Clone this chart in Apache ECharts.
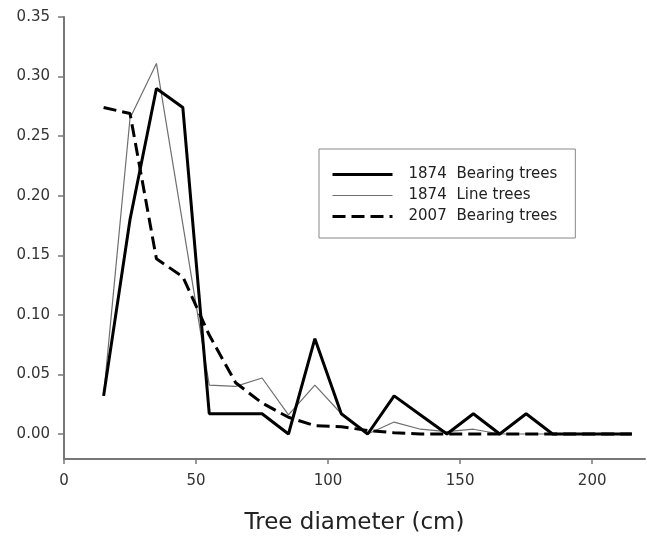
<!DOCTYPE html>
<html>
<head>
<meta charset="utf-8">
<script src="https://cdn.jsdelivr.net/npm/echarts@6/dist/echarts.min.js"></script>
<style>
    html, body { margin: 0; padding: 0; background: #fff; }
    #chart { width: 647px; height: 540px; }
</style>
</head>
<body>
<div id="chart"></div>
<script>
// tree diameter class midpoints (cm)
var diameters = [15, 25, 35, 45, 55, 65, 75, 85, 95, 105, 115, 125, 135, 145,
    155, 165, 175, 185, 195, 205, 215];
var bearing1874 = [0.032, 0.180, 0.290, 0.274, 0.017, 0.017, 0.017, 0.000,
    0.080, 0.017, 0.000, 0.032, 0.016, 0.000, 0.017, 0.000, 0.017, 0.000,
    0.000, 0.000, 0.000];
var line1874 = [0.032, 0.265, 0.311, 0.176, 0.041, 0.040, 0.047, 0.016,
    0.041, 0.017, 0.000, 0.010, 0.004, 0.002, 0.004, 0.000, 0.000, 0.000,
    0.000, 0.000, 0.000];
var bearing2007 = [0.274, 0.269, 0.147, 0.132, 0.083, 0.043, 0.026, 0.014,
    0.007, 0.006, 0.003, 0.001, 0.000, 0.000, 0.000, 0.000, 0.000, 0.000,
    0.000, 0.000, 0.000];
var yTicks = [0, 0.05, 0.10, 0.15, 0.20, 0.25, 0.30, 0.35];
var xTicks = [0, 50, 100, 150, 200];

function pairs(values) {
    var out = [];
    for (var i = 0; i < values.length; i++) {
        out.push([diameters[i], values[i]]);
    }
    return out;
}

var myChart = echarts.init(document.getElementById('chart'));
var font = 'DejaVu Sans';

var styleThick = {color: '#000', width: 3};
var styleThin = {color: '#6f6f6f', width: 1.2};
var styleDash = {color: '#000', width: 3, type: [13, 6]};

var option = {
    animation: false,
    grid: {left: 64, right: 2, top: 17, bottom: 81},
    legend: {
        orient: 'vertical',
        left: 319,
        top: 149,
        borderColor: '#888',
        borderWidth: 1,
        padding: [18, 18, 14, 12],
        itemWidth: 60,
        itemHeight: 14,
        itemGap: 6,
        // hide the marker dot, keep only the line sample
        itemStyle: {opacity: 0},
        data: [
            {name: '1874 Bearing trees', lineStyle: styleThick},
            {name: '1874 Line trees', lineStyle: styleThin},
            {name: '2007 Bearing trees', lineStyle: styleDash}
        ],
        formatter: function(name) {
            var k = name.indexOf(' ');
            return '{a|' + name.slice(0, k) + '}{b|' + name.slice(k + 1) + '}';
        },
        textStyle: {
            fontFamily: font,
            fontSize: 15,
            color: '#222',
            rich: {
                a: {fontFamily: font, fontSize: 15, color: '#222', width: 48,
                    lineHeight: 18, padding: [0, 0, 0, 11]},
                b: {fontFamily: font, fontSize: 15, color: '#222',
                    lineHeight: 18}
            }
        }
    },
    xAxis: {
        type: 'value',
        min: 0,
        max: 220,
        name: 'Tree diameter (cm)',
        nameLocation: 'middle',
        nameGap: 53,
        nameTextStyle: {fontFamily: font, fontSize: 23, color: '#222'},
        splitLine: {show: false},
        axisLine: {onZero: false, lineStyle: {color: '#777', width: 2}},
        axisTick: {show: true, length: 5, customValues: xTicks,
            lineStyle: {color: '#777', width: 1.5}},
        axisLabel: {customValues: xTicks, margin: 15, fontFamily: font,
            fontSize: 15, color: '#333'}
    },
    yAxis: {
        type: 'value',
        min: -0.021,
        max: 0.35,
        splitLine: {show: false},
        axisLine: {show: true, onZero: false,
            lineStyle: {color: '#777', width: 2}},
        axisTick: {show: true, length: 6, customValues: yTicks,
            lineStyle: {color: '#777', width: 1.5}},
        axisLabel: {
            customValues: yTicks,
            margin: 14,
            fontFamily: font,
            fontSize: 15,
            color: '#333',
            formatter: function(v) {
                return v.toFixed(2);
            }
        }
    },
    series: [
        {
            name: '1874 Bearing trees',
            type: 'line',
            symbol: 'none',
            data: pairs(bearing1874),
            lineStyle: styleThick,
            itemStyle: {color: '#000'},
            z: 3
        },
        {
            name: '1874 Line trees',
            type: 'line',
            symbol: 'none',
            data: pairs(line1874),
            lineStyle: styleThin,
            itemStyle: {color: '#6f6f6f'},
            z: 2
        },
        {
            name: '2007 Bearing trees',
            type: 'line',
            symbol: 'none',
            data: pairs(bearing2007),
            lineStyle: styleDash,
            itemStyle: {color: '#000'},
            z: 4
        }
    ]
};
myChart.setOption(option);
</script>
</body>
</html>
